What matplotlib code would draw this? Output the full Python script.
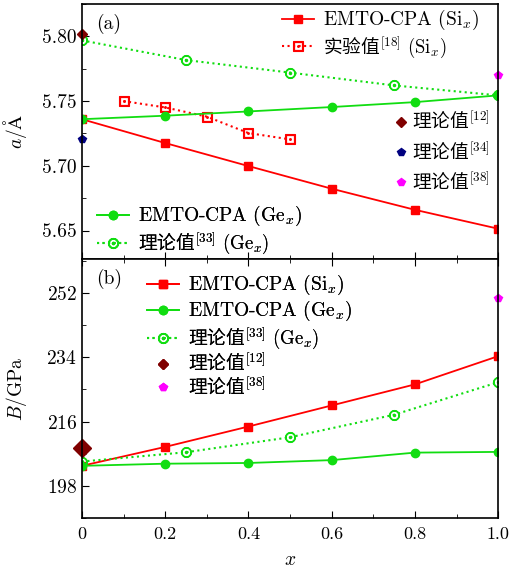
import numpy as np
import matplotlib
matplotlib.use("Agg")
import matplotlib.pyplot as plt
from matplotlib.ticker import MultipleLocator, FormatStrFormatter, FuncFormatter

plt.rcParams['font.family'] = ['cmr10', 'Noto Sans CJK SC']
plt.rcParams['mathtext.fontset'] = 'cm'
plt.rcParams['axes.formatter.use_mathtext'] = True
plt.rcParams['font.size'] = 13

# composition
x_calc = [0.0, 0.2, 0.4, 0.6, 0.8, 1.0]
x_ref33 = [0.0, 0.25, 0.5, 0.75, 1.0]
x_exp18 = [0.1, 0.2, 0.3, 0.4, 0.5]

# lattice constant a (A)
a_si = [5.736, 5.7176, 5.6998, 5.6823, 5.666, 5.6514]
a_ge = [5.736, 5.7387, 5.742, 5.7454, 5.7492, 5.7544]
a_ref33 = [5.7969, 5.7817, 5.772, 5.7621, 5.7544]
a_exp18 = [5.750, 5.7451, 5.738, 5.7253, 5.7204]
a_ref12 = (0.0, 5.802)
a_ref34 = (0.0, 5.721)
a_ref38 = (1.0, 5.770)

# bulk modulus B (GPa)
b_si = [203.6, 208.9, 214.6, 220.5, 226.4, 234.3]
b_ge = [203.6, 204.2, 204.4, 205.2, 207.3, 207.5]
b_ref33 = [204.8, 207.4, 211.6, 217.9, 227.0]
b_ref12 = (0.0, 208.7)
b_ref38 = (1.0, 250.6)

red = '#ff0000'
green = '#11dd11'
maroon = '#800000'
navy = '#000080'
magenta = '#ff00ff'

lbl_si = r'EMTO-CPA (Si$_x$)'
lbl_ge = r'EMTO-CPA (Ge$_x$)'
lbl_exp18 = r'实验值$^{[18]}\ (\mathrm{Si}_x)$'
lbl_ref33 = r'理论值$^{[33]}\ (\mathrm{Ge}_x)$'
lbl_ref12 = r'理论值$^{[12]}$'
lbl_ref34 = r'理论值$^{[34]}$'
lbl_ref38 = r'理论值$^{[38]}$'


def fix_legend(leg):
    # chinese labels get the CJK font, the rest stays in computer modern
    for t in leg.get_texts():
        s = t.get_text()
        if any(ord(c) > 0x2e80 for c in s):
            t.set_fontfamily('Noto Sans CJK SC')
            t.set_fontsize(13.5)
        else:
            t.set_fontsize(14)


def add_legend(ax, handles, anchor, hl=1.8, pad=0.5, spacing=0.1):
    leg = ax.legend(handles=handles, loc='upper left', bbox_to_anchor=anchor,
                    frameon=False, handlelength=hl, handletextpad=pad,
                    labelspacing=spacing, borderpad=0, borderaxespad=0)
    fix_legend(leg)
    ax.add_artist(leg)
    return leg


fig = plt.figure(figsize=(5.12, 5.73), dpi=100)
ax1 = fig.add_axes([0.160, 0.548, 0.813, 0.445])
ax2 = fig.add_axes([0.160, 0.096, 0.813, 0.452], sharex=ax1)

# ---- panel (a)
l1, = ax1.plot(x_calc, a_si, '-s', color=red, ms=6, lw=1.3, label=lbl_si)
l2, = ax1.plot(x_exp18, a_exp18, ':', marker=r'$\boxdot$', color=red, ms=7, lw=1.5,
               label=lbl_exp18)
l3, = ax1.plot(x_calc, a_ge, '-o', color=green, ms=6, lw=1.3, label=lbl_ge)
l4, = ax1.plot(x_ref33, a_ref33, ':', marker=r'$\odot$', color=green, ms=7, lw=1.5,
               label=lbl_ref33)
p1, = ax1.plot(*a_ref12, 'D', color=maroon, ms=5, ls='none', label=lbl_ref12, clip_on=False)
p2, = ax1.plot(*a_ref34, 'p', color=navy, ms=6, ls='none', label=lbl_ref34, clip_on=False)
p3, = ax1.plot(*a_ref38, 'p', color=magenta, ms=6, ls='none', label=lbl_ref38, clip_on=False)

ax1.set_ylim(5.628, 5.825)
ax1.yaxis.set_major_locator(MultipleLocator(0.05))
ax1.yaxis.set_minor_locator(MultipleLocator(0.025))
ax1.yaxis.set_major_formatter(FormatStrFormatter('%.2f'))
ax1.set_ylabel(r'$a/\mathrm{\AA}$', fontsize=14)
ax1.yaxis.set_label_coords(-0.128, 0.5)
ax1.text(0.035, 0.96, '(a)', transform=ax1.transAxes, fontsize=14, va='top')

add_legend(ax1, [l1, l2], (0.48, 0.985))
add_legend(ax1, [p1, p2, p3], (0.75, 0.58), hl=0.8, pad=0.2, spacing=0.45)
add_legend(ax1, [l3, l4], (0.036, 0.215))

# ---- panel (b)
m1, = ax2.plot(x_calc, b_si, '-s', color=red, ms=6, lw=1.3, label=lbl_si)
m2, = ax2.plot(x_calc, b_ge, '-o', color=green, ms=6, lw=1.3, label=lbl_ge)
m3, = ax2.plot(x_ref33, b_ref33, ':', marker=r'$\odot$', color=green, ms=7, lw=1.5,
               label=lbl_ref33)
q1, = ax2.plot(*b_ref12, 'D', color=maroon, ms=9, ls='none', label=lbl_ref12, clip_on=False)
q2, = ax2.plot(*b_ref38, 'p', color=magenta, ms=6, ls='none', label=lbl_ref38, clip_on=False)

ax2.set_ylim(189, 261.5)
ax2.yaxis.set_major_locator(MultipleLocator(18))
ax2.yaxis.set_minor_locator(MultipleLocator(9))
ax2.set_ylabel(r'$B/\mathrm{GPa}$', fontsize=14)
ax2.yaxis.set_label_coords(-0.128, 0.5)
ax2.text(0.035, 0.96, '(b)', transform=ax2.transAxes, fontsize=14, va='top')
leg_b = add_legend(ax2, [m1, m2, m3, q1, q2], (0.156, 0.945))
leg_b.legend_handles[3].set_markersize(5)

ax2.set_xlim(0, 1.0)
ax2.xaxis.set_major_locator(MultipleLocator(0.2))
ax2.xaxis.set_minor_locator(MultipleLocator(0.1))
ax2.xaxis.set_major_formatter(FuncFormatter(lambda v, p: '0' if abs(v) < 1e-9 else f'{v:.1f}'))
ax2.set_xlabel(r'$x$', fontsize=14, labelpad=7)

for ax in (ax1, ax2):
    ax.tick_params(which='both', direction='in', top=False, right=False)
    ax.tick_params(axis='y', labelsize=14)
    ax.tick_params(axis='x', labelsize=13, pad=6)
    ax.tick_params(which='major', length=5)
    ax.tick_params(which='minor', length=3)
    for s in ax.spines.values():
        s.set_linewidth(1.2)
ax2.tick_params(which='both', top=True)
ax1.tick_params(axis='x', labelbottom=False)

fig.savefig('out.png', dpi=100)
